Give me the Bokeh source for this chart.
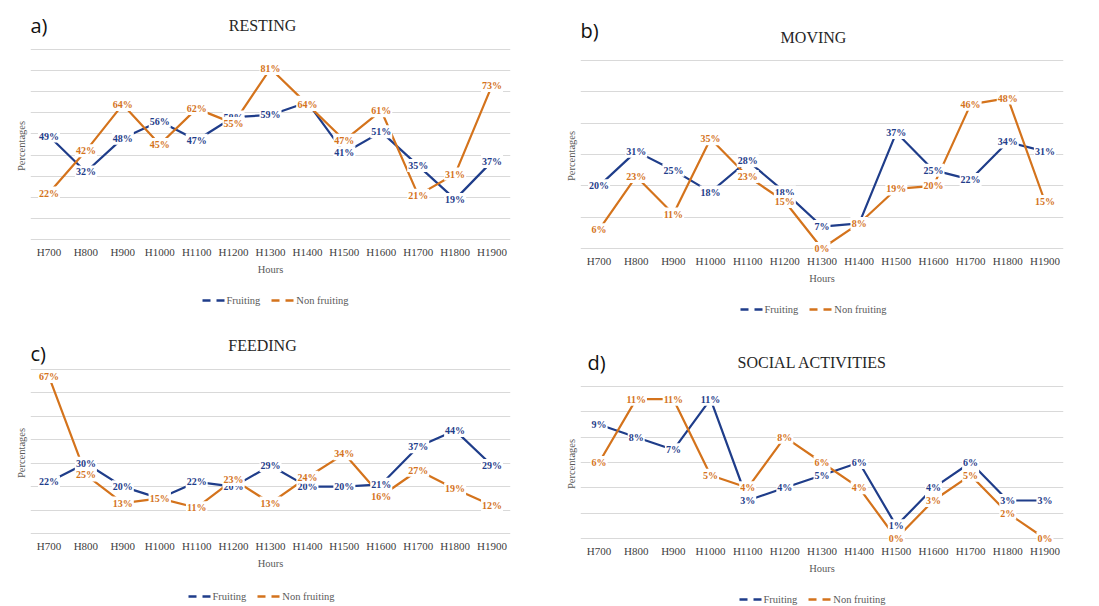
from bokeh.plotting import figure
from bokeh.layouts import row, column
from bokeh.models import (ColumnDataSource, FactorRange, Range1d, SingleIntervalTicker,
                          FixedTicker, Legend, LegendItem, Label)
from bokeh.core.properties import value
from bokeh.embed import file_html
from bokeh.resources import INLINE

hours = ["H700", "H800", "H900", "H1000", "H1100", "H1200", "H1300",
         "H1400", "H1500", "H1600", "H1700", "H1800", "H1900"]

resting_fruiting = [49, 32, 48, 56, 47, 58, 59, 65, 41, 51, 35, 19, 37]
resting_nonfruiting = [22, 42, 64, 45, 62, 55, 81, 64, 47, 61, 21, 31, 73]

moving_fruiting = [20, 31, 25, 18, 28, 18, 7, 8, 37, 25, 22, 34, 31]
moving_nonfruiting = [6, 23, 11, 35, 23, 15, 0, 8, 19, 20, 46, 48, 15]

feeding_fruiting = [22, 30, 20, 15, 22, 20, 29, 20, 20, 21, 37, 44, 29]
feeding_nonfruiting = [67, 25, 13, 15, 11, 23, 13, 24, 34, 16, 27, 19, 12]

social_fruiting = [9, 8, 7, 11, 3, 4, 5, 6, 1, 4, 6, 3, 3]
social_nonfruiting = [6, 11, 11, 5, 4, 8, 6, 4, 0, 3, 5, 2, 0]

series_names = ["Fruiting", "Non fruiting"]

BLUE = "#1f3d8a"
ORANGE = "#d4731c"
GRID = "#d9d9d9"
TXT = "#595959"
SERIF = "Liberation Serif"
LEFT = 30  # left border (room for the y-axis label); frames of a column are aligned


def make_panel(title, letter, fruit, nonfruit, ymax, step, w, panel_h, right, gt, g0,
               letter_xy, title_xy, legend_cx, legend_cy):
    # ---- header (panel letter + title); its frame is aligned with the plot frame
    header_h = gt - 3
    hdr = figure(width=w, height=header_h, x_range=Range1d(LEFT, w - right),
                 y_range=Range1d(header_h, 0), x_axis_type=None, y_axis_type=None,
                 title=None, output_backend="svg", toolbar_location=None,
                 min_border_left=LEFT, min_border_right=right,
                 min_border_top=0, min_border_bottom=0)
    hdr.outline_line_color = None
    hdr.grid.visible = False
    hdr.add_layout(Label(x=letter_xy[0], y=letter_xy[1], text=letter,
                         text_font="Open Sans", text_font_size="20px", text_color="#111111",
                         text_baseline="middle", text_align="left"))
    hdr.add_layout(Label(x=title_xy[0], y=title_xy[1], text=title,
                         text_font=SERIF, text_font_size="16px", text_color="#262626",
                         text_baseline="middle", text_align="center"))

    # ---- plot
    span = g0 - gt
    u = ymax / span
    bottom_border = 36
    plot_h = span + 9 + bottom_border
    p = figure(width=w, height=plot_h, x_range=FactorRange(*hours),
               y_range=Range1d(-6 * u, ymax + 3 * u), title=None,
               output_backend="svg", toolbar_location=None,
               min_border_left=LEFT, min_border_right=right,
               min_border_top=0, min_border_bottom=bottom_border)
    p.outline_line_color = None

    p.xgrid.visible = False
    p.ygrid.ticker = SingleIntervalTicker(interval=step)
    p.ygrid.grid_line_color = GRID
    p.ygrid.grid_line_width = 1

    p.yaxis.ticker = FixedTicker(ticks=[])
    p.yaxis.axis_line_color = None
    p.yaxis.major_tick_line_color = None
    p.yaxis.minor_tick_line_color = None
    p.yaxis.major_tick_out = 0
    p.yaxis.major_label_standoff = 0
    p.yaxis.axis_label = "Percentages"
    p.yaxis.axis_label_standoff = 4
    p.yaxis.axis_label_text_font = SERIF
    p.yaxis.axis_label_text_font_size = "10.5px"
    p.yaxis.axis_label_text_font_style = "normal"
    p.yaxis.axis_label_text_color = TXT

    p.xaxis.axis_line_color = None
    p.xaxis.major_tick_line_color = None
    p.xaxis.minor_tick_line_color = None
    p.xaxis.major_tick_out = 0
    p.xaxis.major_label_standoff = 0
    p.xaxis.major_label_text_font = SERIF
    p.xaxis.major_label_text_font_size = "11px"
    p.xaxis.major_label_text_color = "#404040"
    p.xaxis.axis_label = "Hours"
    p.xaxis.axis_label_standoff = 3
    p.xaxis.axis_label_text_font = SERIF
    p.xaxis.axis_label_text_font_size = "10.5px"
    p.xaxis.axis_label_text_font_style = "normal"
    p.xaxis.axis_label_text_color = TXT

    src_f = ColumnDataSource(dict(x=hours, y=fruit, t=[f"{v}%" for v in fruit]))
    src_n = ColumnDataSource(dict(x=hours, y=nonfruit, t=[f"{v}%" for v in nonfruit]))

    p.line("x", "y", source=src_f, line_color=BLUE, line_width=2.2)
    p.line("x", "y", source=src_n, line_color=ORANGE, line_width=2.2)

    for src, col in ((src_f, BLUE), (src_n, ORANGE)):
        p.text("x", "y", text="t", source=src, text_align="center", text_baseline="middle",
               text_font=value(SERIF), text_font_size="10px", text_font_style="bold",
               text_color=col, background_fill_color="white", padding=1)

    # ---- legend strip (series drawn outside its view; only the legend shows)
    legend_h = panel_h - header_h - plot_h
    lg = figure(width=w, height=legend_h, x_range=FactorRange(*hours),
                y_range=Range1d(-2, -1), x_axis_type=None, y_axis_type=None, title=None,
                output_backend="svg", toolbar_location=None,
                min_border_left=LEFT, min_border_right=right,
                min_border_top=0, min_border_bottom=0)
    lg.outline_line_color = None
    lg.grid.visible = False
    lf = lg.line("x", "y", source=src_f, line_color=BLUE, line_width=2.5, line_dash="8 6")
    ln = lg.line("x", "y", source=src_n, line_color=ORANGE, line_width=2.5, line_dash="8 6")
    legend_w, legend_hh = 151, 18
    legend = Legend(items=[LegendItem(label=series_names[0], renderers=[lf]),
                           LegendItem(label=series_names[1], renderers=[ln])],
                    orientation="horizontal",
                    location=(legend_cx - LEFT - legend_w / 2,
                              legend_h - legend_cy - legend_hh / 2),
                    glyph_width=23, glyph_height=10, label_height=14, spacing=11,
                    label_standoff=2,
                    label_text_font=SERIF, label_text_font_size="10.5px",
                    label_text_color=TXT, border_line_color=None,
                    background_fill_alpha=0, padding=2, margin=0)
    lg.add_layout(legend, "center")
    return column(hdr, p, lg, spacing=0)


# panel geometry (pixels inside each panel): gridline top / bottom, letter, title, legend
pa = make_panel("RESTING", "a)", resting_fruiting, resting_nonfruiting, 90, 10,
                550, 320, 40, 49, 239, (30, 25), (262, 25), 277, 297 - 280)
pc = make_panel("FEEDING", "c)", feeding_fruiting, feeding_nonfruiting, 70, 10,
                550, 286, 40, 49, 213, (30, 33), (262, 25), 263, 273 - 254)
pb = make_panel("MOVING", "b)", moving_fruiting, moving_nonfruiting, 60, 10,
                549, 330, 36, 60, 248, (30, 30), (263, 37), 265, 307 - 290)
pd = make_panel("SOCIAL ACTIVITIES", "d)", social_fruiting, social_nonfruiting, 12, 2,
                549, 276, 36, 56, 208, (37, 32), (262, 32), 264, 267 - 250)

layout = row(column(pa, pc, spacing=0), column(pb, pd, spacing=0), spacing=0)

with open("out.html", "w") as f:
    f.write(file_html(layout, INLINE))
